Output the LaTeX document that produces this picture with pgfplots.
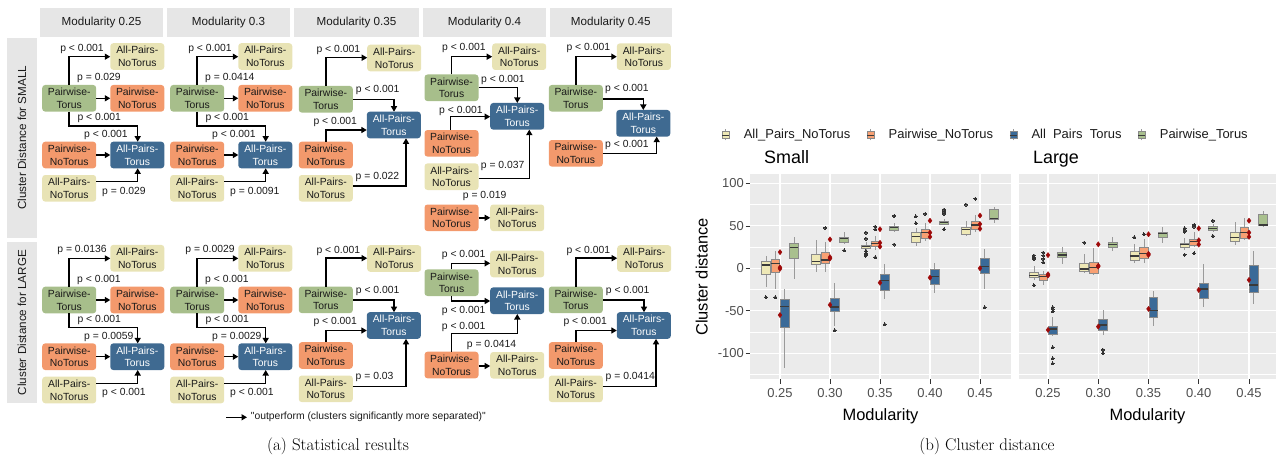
\documentclass[border=0pt]{standalone}
\usepackage{pgfplots}
\pgfplotsset{compat=1.18}
\usepgfplotslibrary{statistics}
\usetikzlibrary{arrows.meta}
\usepackage{fontspec}
\newfontfamily\arial{Liberation Sans}

\definecolor{cY}{HTML}{E8E3B5}
\definecolor{cG}{HTML}{A7BE8B}
\definecolor{cO}{HTML}{F3996C}
\definecolor{cB}{HTML}{3F6A91}
\definecolor{bY}{HTML}{EEE8B6}
\definecolor{bG}{HTML}{A9C08E}
\definecolor{bO}{HTML}{F8A073}
\definecolor{bB}{HTML}{3A6A98}
\definecolor{stripc}{HTML}{E6E6E6}
\definecolor{panelc}{HTML}{EBEBEB}
\definecolor{bordc}{HTML}{8A8A8A}
\definecolor{whc}{HTML}{9A9A9A}
\definecolor{medc}{HTML}{3A3A3A}
\definecolor{ptc}{HTML}{333333}
\definecolor{redc}{HTML}{9E0A0A}
\definecolor{tickc}{HTML}{4D4D4D}
\definecolor{txtc}{HTML}{1A1A1A}

\tikzset{
  nd/.style={rounded corners=3bp, minimum width=54bp, minimum height=26.6bp, inner sep=0pt,
    align=center, text=txtc, font=\arial\fontsize{10.4}{12.7}\selectfont},
  ny/.style={nd, fill=cY}, ng/.style={nd, fill=cG}, no/.style={nd, fill=cO},
  nb/.style={nd, fill=cB, text=white},
  pl/.style={anchor=west, inner sep=0pt, text=txtc, font=\arial\fontsize{10.4}{12}\selectfont},
  ar/.style={-{Triangle[length=5.5bp,width=6bp]}, line width=1.5bp, black},
}
\newcommand{\nY}[2]{\node[ny] at ({#1},{#2}) {All-Pairs-\\NoTorus};}
\newcommand{\nG}[2]{\node[ng] at ({#1},{#2}) {Pairwise-\\Torus};}
\newcommand{\nO}[2]{\node[no] at ({#1},{#2}) {Pairwise-\\NoTorus};}
\newcommand{\nB}[2]{\node[nb] at ({#1},{#2}) {All-Pairs-\\Torus};}

% facet type A (columns 0.25 and 0.3)
\newcommand{\facetA}[7]{%
 \nY{#1+97.3}{#2+56.5}
 \nG{#1+29.2}{#2+98.3}
 \nO{#1+97.3}{#2+98.3}
 \nO{#1+29.2}{#2+155}
 \nB{#1+97.3}{#2+155}
 \nY{#1+29.2}{#2+188.3}
 \draw[ar] ({#1+29.2},{#2+85}) -- ({#1+29.2},{#2+56.7}) -- ({#1+70.3},{#2+56.7});
 \draw[ar] ({#1+56.2},{#2+98.3}) -- ({#1+70.3},{#2+98.3});
 \draw[ar] ({#1+29.2},{#2+111.6}) -- ({#1+29.2},{#2+126}) -- ({#1+97.7},{#2+126}) -- ({#1+97.7},{#2+141.7});
 \draw[ar] ({#1+56.2},{#2+155}) -- ({#1+70.3},{#2+155});
 \draw[ar] ({#1+56.2},{#2+181.7}) -- ({#1+97.7},{#2+181.7}) -- ({#1+97.7},{#2+168.3});
 \node[pl,anchor=center] at ({#1+42},{#2+48.7}) {#3};
 \node[pl] at ({#1+37},{#2+78.3}) {#4};
 \node[pl] at ({#1+37.3},{#2+118.3}) {#5};
 \node[pl] at ({#1+44},{#2+135}) {#6};
 \node[pl] at ({#1+62},{#2+191.7}) {#7};
}
% facet type B (column 0.35, and 0.45 large)
\newcommand{\facetB}[6]{%
 \nY{#1+394.2}{#2+58}
 \nG{#1+325.8}{#2+99.3}
 \nB{#1+393.8}{#2+125}
 \nO{#1+325.8}{#2+155}
 \nY{#1+325.8}{#2+188.3}
 \draw[ar] ({#1+325.8},{#2+86}) -- ({#1+325.8},{#2+57.7}) -- ({#1+367.2},{#2+57.7});
 \draw[ar] ({#1+352.8},{#2+99.3}) -- ({#1+394},{#2+99.3}) -- ({#1+394},{#2+111.7});
 \draw[ar] ({#1+325.8},{#2+141.7}) -- ({#1+325.8},{#2+130}) -- ({#1+366.8},{#2+130});
 \draw[ar] ({#1+352.8},{#2+186}) -- ({#1+406},{#2+186}) -- ({#1+406},{#2+138.3});
 \node[pl,anchor=center] at ({#1+338.3},{#2+50}) {#3};
 \node[pl] at ({#1+355.7},{#2+90}) {#4};
 \node[pl] at ({#1+313.3},{#2+121.7}) {#5};
 \node[pl] at ({#1+355.5},{#2+176.7}) {#6};
}

\pgfplotsset{
  bxbase/.style={forget plot, line width=0.5bp, draw=bordc, mark=*, mark size=1.5bp,
    mark options={draw=ptc, fill=ptc, line width=0pt},
    boxplot/draw direction=y,
    boxplot/every median/.style={draw=medc, line width=1.1bp},
    boxplot/every whisker/.style={draw=whc, line width=0.6bp}},
  BY/.style={bxbase, boxplot/every box/.style={draw=bordc, fill=bY}},
  BO/.style={bxbase, boxplot/every box/.style={draw=bordc, fill=bO}},
  BB/.style={bxbase, boxplot/every box/.style={draw=bordc, fill=bB}},
  BG/.style={bxbase, boxplot/every box/.style={draw=bordc, fill=bG}},
  RED/.style={forget plot, only marks, mark=diamond*, mark size=2.6bp, mark options={draw=redc, fill=redc}},
  panel/.style={
    anchor=south west, scale only axis, height=205bp, ymin=-130.6, ymax=110.6,
    axis background/.style={fill=panelc},
    axis line style={draw=none},
    xtick={1,2,3,4,5}, xticklabels={0.25,0.30,0.35,0.40,0.45},
    ytick={-100,-50,0,50,100},
    minor ytick={-125,-75,-25,25,75},
    grid=both,
    major grid style={draw=white, line width=1.1bp},
    minor grid style={draw=white, line width=0.55bp},
    tick align=outside, xtick pos=left, ytick pos=left,
    major tick length=4.5bp, minor tick length=0pt,
    tick style={draw=ptc, line width=0.6bp},
    ticklabel style={font=\arial\fontsize{13}{15}\selectfont, text=tickc},
    /pgf/number format/assume math mode=true,
    xticklabel style={inner sep=0pt, yshift=-4bp},
    yticklabel style={inner sep=0pt, xshift=-1.5bp},
    xlabel={Modularity},
    every axis x label/.style={at={(rel axis cs:0.5,-0.179)}, anchor=center, font=\arial\fontsize{16.5}{18}\selectfont},
    every axis y label/.style={at={(rel axis cs:-0.185,0.5)}, anchor=center, rotate=90, font=\arial\fontsize{16.5}{18}\selectfont},
    title style={at={(rel axis cs:0.041,1.0249)}, anchor=base west, font=\arial\fontsize{18}{20}\selectfont},
    boxplot/box extend=0.176, boxplot/whisker extend=0,
  },
}
\newcommand{\bx}[8]{\addplot[#1, boxplot prepared={draw position=#2, lower whisker=#3, lower quartile=#4, median=#5, upper quartile=#6, upper whisker=#7}] coordinates {#8};}

\begin{document}
\begin{tikzpicture}
% ---------------- canvas for panel (a) and captions ----------------
\begin{axis}[at={(0,0)}, anchor=south west, scale only axis, width=1276bp, height=458bp,
  xmin=0, xmax=1276, ymin=0, ymax=458, y dir=reverse, hide axis, clip=false]
 \fill[stripc] (40,8.3) rectangle (163,36.7);
 \fill[stripc] (167,8.3) rectangle (290,36.7);
 \fill[stripc] (294,8.3) rectangle (419,36.7);
 \fill[stripc] (423,8.3) rectangle (546,36.7);
 \fill[stripc] (549.5,8.3) rectangle (672,36.7);
 \fill[stripc] (7,38) rectangle (37,237.5);
 \fill[stripc] (7,241.7) rectangle (37,403.3);
 \node[text=txtc, font=\arial\fontsize{11.7}{13}\selectfont] at (101.5,22.5) {Modularity 0.25};
 \node[text=txtc, font=\arial\fontsize{11.7}{13}\selectfont] at (228.5,22.5) {Modularity 0.3};
 \node[text=txtc, font=\arial\fontsize{11.7}{13}\selectfont] at (356.5,22.5) {Modularity 0.35};
 \node[text=txtc, font=\arial\fontsize{11.7}{13}\selectfont] at (484.5,22.5) {Modularity 0.4};
 \node[text=txtc, font=\arial\fontsize{11.7}{13}\selectfont] at (610.8,22.5) {Modularity 0.45};
 \node[rotate=90, text=txtc, font=\arial\fontsize{11.7}{13}\selectfont] at (22,137.7) {Cluster Distance for SMALL};
 \node[rotate=90, text=txtc, font=\arial\fontsize{11.7}{13}\selectfont] at (22,322.5) {Cluster Distance for LARGE};
 % row SMALL
 \facetA{40}{0}{p < 0.001}{p = 0.029}{p < 0.001}{p < 0.001}{p = 0.029}
 \facetA{168}{0}{p < 0.001}{p = 0.0414}{p < 0.001}{p < 0.001}{p = 0.0091}
 \facetB{0}{0}{p < 0.001}{p < 0.001}{p < 0.001}{p = 0.022}
 % Modularity 0.4, small
 \nY{519.2}{56.7}
 \nG{451.5}{87.8}
 \nB{517.2}{116.3}
 \nO{451.5}{143.3}
 \nY{451.5}{176.7}
 \nO{451.5}{217.8}
 \nY{517.2}{217.8}
 \draw[ar] (451.7,74.5) -- (451.7,56.7) -- (492.2,56.7);
 \draw[ar] (478.5,87.3) -- (517.3,87.3) -- (517.3,103);
 \draw[ar] (450.7,130) -- (450.7,116.7) -- (490.2,116.7);
 \draw[ar] (478.5,178.3) -- (529.3,178.3) -- (529.3,129.6);
 \draw[ar] (478.5,217.8) -- (490.2,217.8);
 \node[pl,anchor=center] at (463.9,48.3) {p < 0.001};
 \node[pl] at (481,80) {p < 0.001};
 \node[pl] at (439,110.7) {p < 0.001};
 \node[pl] at (480.7,165.7) {p = 0.037};
 \node[pl] at (462.7,196) {p = 0.019};
 % Modularity 0.45, small
 \nY{643.8}{56.7}
 \nG{575.8}{98.3}
 \nB{643.3}{123.3}
 \nO{575.8}{153.3}
 \draw[ar] (575.8,85) -- (575.8,56.7) -- (616.8,56.7);
 \draw[ar] (602.8,98.8) -- (643.3,98.8) -- (643.3,110);
 \draw[ar] (602.8,153.3) -- (656.7,153.3) -- (656.7,136.6);
 \node[pl,anchor=center] at (588.3,48.3) {p < 0.001};
 \node[pl] at (605,89) {p < 0.001};
 \node[pl] at (605,145) {p < 0.001};
 % row LARGE
 \facetA{40}{201.7}{p = 0.0136}{p < 0.001}{p < 0.001}{p = 0.0059}{p < 0.001}
 \facetA{168}{201.7}{p = 0.0029}{p < 0.001}{p < 0.001}{p = 0.0029}{p < 0.001}
 \facetB{0}{200.5}{p < 0.001}{p < 0.001}{p < 0.001}{p = 0.03}
 \facetB{250}{200.5}{p < 0.001}{p < 0.001}{p < 0.001}{p = 0.0414}
 % Modularity 0.4, large
 \nG{451.5}{282.7}
 \nY{517.2}{264}
 \nB{517.2}{300.7}
 \nO{451.5}{365}
 \nY{517.2}{365.3}
 \draw[ar] (451.7,269.4) -- (451.7,263.3) -- (490.2,263.3);
 \draw[ar] (451.7,296) -- (451.7,301) -- (490.2,301);
 \draw[ar] (451.7,351.7) -- (451.7,333.3) -- (517.3,333.3) -- (517.3,314);
 \draw[ar] (478.5,366) -- (490.2,366);
 \node[pl] at (441.7,255) {p < 0.001};
 \node[pl] at (441.7,311) {p < 0.001};
 \node[pl] at (441.7,326.7) {p < 0.001};
 \node[pl] at (466.7,345) {p = 0.0414};
 % key
 \draw[ar] (226,417.3) -- (247,417.3);
 \node[pl] at (250.7,417.3) {"outperform (clusters significantly more separated)"};
 % captions
 \node[font=\fontsize{17}{20}\selectfont] at (338,446) {(a) Statistical results};
 \node[font=\fontsize{17}{20}\selectfont] at (987,446) {(b) Cluster distance};
\end{axis}

% ---------------- panel Small ----------------
\begin{axis}[panel, at={(750bp,78.7bp)}, width=261bp, xmin=0.4, xmax=5.62,
  yticklabels={-100,-50,0,50,100}, ylabel={Cluster distance}, title={Small},
  legend columns=4, legend cell align=left,
  legend style={at={(rel axis cs:-0.1084,1.1917)}, anchor=west, draw=none, fill=none,
    inner sep=0pt, outer sep=0pt, nodes={inner sep=0pt, text=txtc},
    font=\arial\fontsize{13}{15}\selectfont,
    /tikz/every odd column/.append style={column sep=14.3bp},
    /tikz/every even column/.append style={column sep=16.3bp}},
]
\addlegendimage{legend image code/.code={
  \draw[whc,line width=0.6bp] (3.5bp,-5.5bp) -- (3.5bp,5.5bp);
  \draw[draw=bordc,fill=bY,line width=0.5bp] (0bp,-3.3bp) rectangle (7bp,3.3bp);
  \draw[medc,line width=0.8bp] (0bp,0bp) -- (7bp,0bp);}}
\addlegendentry{All\_Pairs\_NoTorus}
\addlegendimage{legend image code/.code={
  \draw[whc,line width=0.6bp] (3.5bp,-5.5bp) -- (3.5bp,5.5bp);
  \draw[draw=bordc,fill=bO,line width=0.5bp] (0bp,-3.3bp) rectangle (7bp,3.3bp);
  \draw[medc,line width=0.8bp] (0bp,0bp) -- (7bp,0bp);}}
\addlegendentry{Pairwise\_NoTorus}
\addlegendimage{legend image code/.code={
  \draw[whc,line width=0.6bp] (3.5bp,-5.5bp) -- (3.5bp,5.5bp);
  \draw[draw=bordc,fill=bB,line width=0.5bp] (0bp,-3.3bp) rectangle (7bp,3.3bp);
  \draw[medc,line width=0.8bp] (0bp,0bp) -- (7bp,0bp);}}
\addlegendentry{All\hspace{0.556em}Pairs\hspace{0.556em}Torus}
\addlegendimage{legend image code/.code={
  \draw[whc,line width=0.6bp] (3.5bp,-5.5bp) -- (3.5bp,5.5bp);
  \draw[draw=bordc,fill=bG,line width=0.5bp] (0bp,-3.3bp) rectangle (7bp,3.3bp);
  \draw[medc,line width=0.8bp] (0bp,0bp) -- (7bp,0bp);}}
\addlegendentry{Pairwise\_Torus}
% 0.25
\bx{BY}{0.71875}{-21.6}{-7}{3.9}{7.8}{14.5}{(0.71875,-34)}
\bx{BO}{0.90625}{-24}{-5}{5.9}{11}{20.8}{(0.90625,-34)}
\bx{BB}{1.09375}{-117}{-69.8}{-45}{-36}{-24}{}
\bx{BG}{1.28125}{-13}{11.8}{24}{30}{37}{}
% 0.30
\bx{BY}{1.71875}{-4}{4.3}{7.8}{16.5}{33}{}
\bx{BO}{1.90625}{-4}{6.3}{9.8}{18.4}{30.6}{(1.90625,47.5)}
\bx{BB}{2.09375}{-68}{-51}{-45.5}{-35}{-17.6}{(2.09375,-73)}
\bx{BG}{2.28125}{29}{30.5}{35}{37}{43}{(2.28125,21)}
% 0.35
\bx{BY}{2.71875}{22}{23.5}{25.5}{27.5}{31}{(2.71875,42) (2.71875,35) (2.71875,20) (2.71875,17.6) (2.71875,16) (2.71875,15)}
\bx{BO}{2.90625}{21.5}{26}{29}{32}{38}{(2.90625,49) (2.90625,46) (2.90625,13)}
\bx{BB}{3.09375}{-36.5}{-25.5}{-14.5}{-7}{5}{(3.09375,-66)}
\bx{BG}{3.28125}{43}{44.3}{47.5}{49}{53}{(3.28125,61.6) (3.28125,28)}
% 0.40
\bx{BY}{3.71875}{26}{31}{37}{43}{47}{(3.71875,61) (3.71875,53)}
\bx{BO}{3.90625}{32.5}{35}{42}{46}{53}{(3.90625,64)}
\bx{BB}{4.09375}{-29.4}{-18.4}{-10}{-1}{6.7}{}
\bx{BG}{4.28125}{50.5}{52.2}{54}{55.7}{58}{(4.28125,69) (4.28125,66.5) (4.28125,64) (4.28125,45.8)}
% 0.45
\bx{BY}{4.71875}{38.4}{40}{45.8}{48}{56}{(4.71875,75)}
\bx{BO}{4.90625}{42.3}{46.2}{50.9}{54.9}{62.7}{(4.90625,81.9)}
\bx{BB}{5.09375}{-24}{-5.5}{2.5}{12}{23}{(5.09375,-45.9)}
\bx{BG}{5.28125}{53}{57.6}{58.8}{69.4}{72.5}{}
\addplot[RED] coordinates {
 (1,19) (1,1) (1,-0.5) (1,-55)
 (2,34) (2,13) (2,11.5) (2,-43)
 (3,46) (3,30) (3,25.5) (3,-17)
 (4,56) (4,42) (4,37) (4,-11)
 (5,62) (5,52) (5,46.5) (5,0)};
\end{axis}

% ---------------- panel Large ----------------
\begin{axis}[panel, at={(1019bp,78.7bp)}, width=257bp, xmin=0.4229, xmax=5.537,
  yticklabels={}, ytick style={draw=none}, title={Large}]
% 0.25
\bx{BY}{0.71875}{-13.7}{-11}{-8.6}{-5.1}{2.7}{(0.71875,15) (0.71875,13) (0.71875,11) (0.71875,-20)}
\bx{BO}{0.90625}{-20}{-13.7}{-9.8}{-7.5}{-3.5}{(0.90625,18.4) (0.90625,15) (0.90625,11) (0.90625,7)}
\bx{BB}{1.09375}{-79.6}{-77.6}{-71.4}{-67.8}{-57.6}{(1.09375,-46) (1.09375,-48) (1.09375,-50.6) (1.09375,-93) (1.09375,-106) (1.09375,-112)}
\bx{BG}{1.28125}{5}{13}{15.7}{18.4}{24.7}{}
% 0.30
\bx{BY}{1.71875}{-5.9}{-3.9}{-0.8}{5.9}{16.9}{(1.71875,30.2)}
\bx{BO}{1.90625}{-7.8}{-5.9}{1.2}{7.5}{24.3}{}
\bx{BB}{2.09375}{-78.4}{-73.3}{-66.7}{-60}{-49}{(2.09375,-96) (2.09375,-100)}
\bx{BG}{2.28125}{20.8}{24.3}{27.5}{30.2}{37.3}{}
% 0.35
\bx{BY}{2.71875}{5.9}{9}{14.5}{19.6}{28.6}{(2.71875,36.5)}
\bx{BO}{2.90625}{6.7}{11.8}{17.6}{24.3}{34.5}{(2.90625,40)}
\bx{BB}{3.09375}{-67.5}{-57.6}{-50}{-34}{-26.7}{}
\bx{BG}{3.28125}{29.4}{36}{41}{43}{49}{}
% 0.40
\bx{BY}{3.71875}{21.6}{24.7}{27.5}{29.4}{35.3}{(3.71875,47) (3.71875,45) (3.71875,43) (3.71875,16)}
\bx{BO}{3.90625}{25.5}{27.5}{31.4}{34}{43}{(3.90625,51) (3.90625,49) (3.90625,17.6)}
\bx{BB}{4.09375}{-46}{-35.3}{-24.3}{-17.6}{4.7}{}
\bx{BG}{4.28125}{43}{44.3}{47}{49}{51.8}{(4.28125,56) (4.28125,38)}
% 0.45
\bx{BY}{4.71875}{27.5}{31.4}{36.5}{42}{54}{}
\bx{BO}{4.90625}{33.3}{35.3}{42}{48}{59.6}{}
\bx{BB}{5.09375}{-42}{-28.6}{-19.6}{3.9}{20.8}{}
\bx{BG}{5.28125}{49}{50.2}{51}{63.5}{67.5}{}
\addplot[RED] coordinates {
 (1,15.5) (1,-7) (1,-8.5) (1,-72.5)
 (2,28.2) (2,3) (2,2) (2,-68.6)
 (3,40) (3,17) (3,15.7) (3,-47.8)
 (4,47) (4,33) (4,28) (4,-25.5)
 (5,56) (5,42) (5,37) (5,-13.7)};
\end{axis}
\pgfresetboundingbox
\path[use as bounding box] (0,0) rectangle (1276bp,458bp);
\end{tikzpicture}
\end{document}
